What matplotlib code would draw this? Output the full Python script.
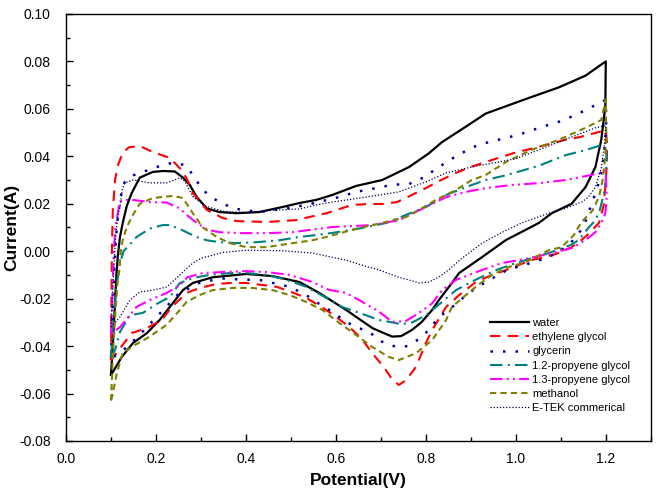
import matplotlib
matplotlib.use("Agg")
import matplotlib.pyplot as plt
from matplotlib.ticker import MultipleLocator, FormatStrFormatter

plt.rcParams['font.family'] = ['Liberation Sans', 'DejaVu Sans']

labels = ["water", "ethylene glycol", "glycerin", "1.2-propyene glycol",
          "1.3-propyene glycol", "methanol", "E-TEK commerical"]

# ---- water ----
water_v = [0.100, 0.104, 0.108, 0.112, 0.115, 0.120, 0.126, 0.135, 0.146, 0.164, 0.193, 0.215, 0.242,
           0.260, 0.275, 0.290, 0.313, 0.341, 0.379, 0.430, 0.490, 0.519, 0.556, 0.592, 0.645, 0.703,
           0.763, 0.807, 0.836, 0.889, 0.933, 0.962, 1.029, 1.095, 1.155, 1.200,
           1.199, 1.190, 1.177, 1.155, 1.124, 1.080, 1.051, 1.022, 0.978, 0.925, 0.874, 0.858, 0.829,
           0.814, 0.790, 0.769, 0.745, 0.725, 0.700, 0.681, 0.623, 0.563, 0.519, 0.459, 0.401, 0.326,
           0.282, 0.260, 0.237, 0.208, 0.180, 0.149, 0.124, 0.104, 0.100]
water_i = [-0.052, -0.040, -0.025, -0.010, -0.0025, 0.006, 0.0118, 0.019, 0.0245, 0.031, 0.0334, 0.0338,
           0.0336, 0.031, 0.028, 0.023, 0.018, 0.0165, 0.016, 0.0165, 0.019, 0.0203, 0.0216, 0.0237,
           0.0275, 0.030, 0.0355, 0.0413, 0.046, 0.0525, 0.058, 0.060, 0.0646, 0.069, 0.074, 0.080,
           0.061, 0.047, 0.0355, 0.027, 0.020, 0.016, 0.0119, 0.009, 0.0047, -0.0025, -0.0092, -0.0134,
           -0.0206, -0.0248, -0.030, -0.0332, -0.0358, -0.036, -0.034, -0.0324, -0.0248, -0.0176,
           -0.013, -0.0105, -0.0096, -0.011, -0.0134, -0.0164, -0.022, -0.029, -0.0345, -0.0387,
           -0.0446, -0.051, -0.052]

# ---- ethylene glycol ----
eg_v = [0.100, 0.101, 0.102, 0.104, 0.109, 0.115, 0.126, 0.140, 0.164, 0.193, 0.231, 0.257, 0.270,
        0.282, 0.313, 0.348, 0.379, 0.446, 0.512, 0.541, 0.579, 0.636, 0.674, 0.703, 0.736, 0.769,
        0.800, 0.834, 0.867, 0.900, 0.933, 0.996, 1.051, 1.111, 1.140, 1.200,
        1.203, 1.202, 1.199, 1.195, 1.185, 1.160, 1.146, 1.124, 1.095, 1.066, 1.035, 0.978, 0.947,
        0.911, 0.874, 0.845, 0.814, 0.800, 0.778, 0.756, 0.740, 0.725, 0.707, 0.681, 0.656, 0.630,
        0.601, 0.568, 0.534, 0.501, 0.468, 0.435, 0.401, 0.368, 0.335, 0.297, 0.268, 0.235, 0.213,
        0.180, 0.146, 0.120, 0.100]
eg_i = [-0.046, -0.020, 0.000, 0.017, 0.030, 0.036, 0.0414, 0.0438, 0.0443, 0.0418, 0.0393, 0.0342,
        0.030, 0.0245, 0.0174, 0.014, 0.0127, 0.0123, 0.0131, 0.0144, 0.016, 0.0195, 0.0199, 0.0199,
        0.0207, 0.0237, 0.0266, 0.030, 0.033, 0.0355, 0.0376, 0.0414, 0.044, 0.047, 0.048, 0.051,
        0.045, 0.036, 0.027, 0.019, 0.012, 0.007, 0.0047, 0.0017, -0.0008, -0.0025, -0.0037, -0.008,
        -0.010, -0.013, -0.0185, -0.0235, -0.0332, -0.0387, -0.0488, -0.0543, -0.0564, -0.054,
        -0.049, -0.043, -0.0366, -0.032, -0.0277, -0.0235, -0.0197, -0.0172, -0.015, -0.0142,
        -0.0134, -0.0134, -0.0138, -0.0155, -0.0176, -0.0235, -0.029, -0.0324, -0.0345, -0.041, -0.046]

# ---- glycerin ----
gly_v = [0.100, 0.104, 0.108, 0.113, 0.120, 0.130, 0.150, 0.180, 0.210, 0.231, 0.246, 0.268, 0.282,
         0.304, 0.326, 0.348, 0.379, 0.430, 0.490, 0.534, 0.607, 0.645, 0.690, 0.725, 0.763, 0.780,
         0.800, 0.818, 0.836, 0.851, 0.874, 0.891, 0.911, 0.940, 0.984, 1.022, 1.058, 1.095, 1.133,
         1.169, 1.190, 1.200,
         1.201, 1.199, 1.196, 1.190, 1.180, 1.165, 1.150, 1.120, 1.090, 1.050, 0.980, 0.933, 0.900,
         0.874, 0.850, 0.829, 0.807, 0.785, 0.760, 0.740, 0.718, 0.696, 0.674, 0.645, 0.623, 0.592,
         0.556, 0.534, 0.497, 0.460, 0.430, 0.392, 0.350, 0.300, 0.250, 0.200, 0.160, 0.120, 0.100]
gly_i = [-0.045, -0.025, -0.005, 0.010, 0.022, 0.029, 0.032, 0.034, 0.036, 0.037, 0.0372, 0.036, 0.032,
         0.0258, 0.0224, 0.020, 0.0178, 0.0165, 0.018, 0.0195, 0.0228, 0.025, 0.0266, 0.028, 0.0283,
         0.030, 0.0313, 0.0342, 0.0363, 0.0384, 0.0405, 0.0426, 0.0443, 0.046, 0.048, 0.050, 0.0524,
         0.0545, 0.0574, 0.0608, 0.063, 0.0637,
         0.055, 0.047, 0.040, 0.033, 0.026, 0.018, 0.010, 0.003, -0.001, -0.004, -0.008, -0.013,
         -0.017, -0.021, -0.025, -0.0277, -0.0332, -0.037, -0.040, -0.0404, -0.0396, -0.0375, -0.034,
         -0.032, -0.0298, -0.0256, -0.0214, -0.0185, -0.015, -0.0134, -0.0121, -0.012, -0.0115,
         -0.013, -0.018, -0.028, -0.036, -0.043, -0.045]

# ---- 1.2-propyene glycol ----
p12_v = [0.100, 0.105, 0.112, 0.120, 0.128, 0.138, 0.157, 0.186, 0.215, 0.231, 0.257, 0.290, 0.313,
         0.341, 0.379, 0.424, 0.474, 0.519, 0.556, 0.592, 0.650, 0.712, 0.756, 0.800, 0.845, 0.889,
         0.933, 0.978, 1.051, 1.111, 1.155, 1.190, 1.200,
         1.202, 1.200, 1.196, 1.187, 1.177, 1.162, 1.140, 1.122, 1.073, 1.035, 1.000, 0.956, 0.911,
         0.867, 0.836, 0.800, 0.770, 0.745, 0.725, 0.696, 0.652, 0.614, 0.579, 0.534, 0.490, 0.446,
         0.401, 0.364, 0.319, 0.282, 0.253, 0.231, 0.202, 0.171, 0.142, 0.120, 0.109, 0.100]
p12_i = [-0.045, -0.030, -0.015, -0.005, 0.000, 0.002, 0.006, 0.0095, 0.011, 0.011, 0.009, 0.006,
         0.0046, 0.0038, 0.0034, 0.0038, 0.0046, 0.006, 0.0068, 0.0077, 0.0095, 0.0119, 0.0153,
         0.0186, 0.0237, 0.027, 0.030, 0.032, 0.036, 0.0405, 0.0426, 0.0447, 0.0456,
         0.038, 0.030, 0.0245, 0.0175, 0.013, 0.010, 0.0047, 0.0026, -0.0008, -0.003, -0.005, -0.008,
         -0.012, -0.0164, -0.0214, -0.027, -0.030, -0.0308, -0.030, -0.029, -0.026, -0.0235,
         -0.0197, -0.015, -0.0121, -0.010, -0.0092, -0.0092, -0.010, -0.0113, -0.0134, -0.0193,
         -0.0222, -0.026, -0.027, -0.034, -0.0417, -0.045]

# ---- 1.3-propyene glycol ----
p13_v = [0.100, 0.103, 0.106, 0.110, 0.115, 0.120, 0.133, 0.149, 0.186, 0.224, 0.253, 0.270, 0.290,
         0.315, 0.341, 0.392, 0.446, 0.503, 0.556, 0.592, 0.681, 0.740, 0.800, 0.845, 0.889, 0.933,
         0.991, 1.051, 1.111, 1.146, 1.190, 1.200,
         1.202, 1.199, 1.190, 1.177, 1.155, 1.124, 1.080, 1.029, 0.969, 0.918, 0.867, 0.836, 0.814,
         0.785, 0.755, 0.725, 0.696, 0.659, 0.623, 0.585, 0.548, 0.497, 0.446, 0.401, 0.348, 0.304,
         0.270, 0.253, 0.224, 0.186, 0.157, 0.120, 0.100]
p13_i = [-0.035, -0.020, 0.000, 0.010, 0.016, 0.021, 0.0216, 0.0216, 0.0207, 0.0205, 0.018, 0.015,
         0.012, 0.009, 0.008, 0.0076, 0.0076, 0.008, 0.0093, 0.0102, 0.011, 0.0131, 0.0186, 0.0228,
         0.025, 0.0266, 0.0279, 0.0287, 0.030, 0.0313, 0.033, 0.034,
         0.0228, 0.016, 0.012, 0.008, 0.0047, 0.0013, -0.0008, -0.003, -0.005, -0.0084, -0.0121,
         -0.0164, -0.022, -0.026, -0.0295, -0.0298, -0.0255, -0.0214, -0.0176, -0.0163, -0.013,
         -0.010, -0.0088, -0.0084, -0.0088, -0.0092, -0.011, -0.0143, -0.0176, -0.0206, -0.0235,
         -0.032, -0.035]

# ---- methanol ----
meoh_v = [0.100, 0.104, 0.110, 0.115, 0.118, 0.122, 0.126, 0.135, 0.146, 0.164, 0.193, 0.237, 0.260,
          0.282, 0.304, 0.335, 0.364, 0.401, 0.446, 0.490, 0.548, 0.579, 0.652, 0.703, 0.756, 0.792,
          0.822, 0.867, 0.902, 0.933, 0.978, 1.035, 1.095, 1.155, 1.190, 1.200,
          1.201, 1.199, 1.193, 1.185, 1.170, 1.155, 1.146, 1.129, 1.102, 1.073, 1.022, 0.984, 0.947,
          0.911, 0.889, 0.858, 0.845, 0.814, 0.778, 0.740, 0.718, 0.681, 0.645, 0.608, 0.570, 0.534,
          0.497, 0.459, 0.415, 0.370, 0.326, 0.297, 0.268, 0.253, 0.224, 0.186, 0.149, 0.126, 0.113,
          0.104, 0.100]
meoh_i = [-0.063, -0.045, -0.025, -0.012, -0.009, 0.000, 0.0046, 0.010, 0.0144, 0.020, 0.0224, 0.0233,
          0.0224, 0.016, 0.010, 0.006, 0.0034, 0.0017, 0.0017, 0.003, 0.0046, 0.006, 0.0098, 0.0119,
          0.0144, 0.0182, 0.0216, 0.0258, 0.030, 0.0321, 0.0376, 0.0427, 0.0469, 0.052, 0.0553, 0.064,
          0.050, 0.040, 0.030, 0.0228, 0.017, 0.014, 0.0123, 0.0068, 0.0017, 0.0004, -0.0046, -0.0067,
          -0.010, -0.015, -0.0185, -0.0235, -0.029, -0.0375, -0.043, -0.0459, -0.0446, -0.0404,
          -0.0353, -0.0303, -0.0248, -0.0214, -0.0185, -0.0164, -0.0155, -0.0155, -0.0164, -0.0185,
          -0.0214, -0.0248, -0.031, -0.036, -0.040, -0.043, -0.0514, -0.060, -0.063]

# ---- E-TEK commerical ----
etek_v = [0.100, 0.104, 0.110, 0.115, 0.120, 0.125, 0.131, 0.149, 0.186, 0.224, 0.253, 0.264, 0.282,
          0.310, 0.350, 0.400, 0.459, 0.519, 0.556, 0.592, 0.667, 0.740, 0.800, 0.845, 0.902, 0.962,
          1.000, 1.051, 1.124, 1.177, 1.200,
          1.197, 1.190, 1.177, 1.160, 1.146, 1.110, 1.073, 1.013, 0.970, 0.925, 0.880, 0.850, 0.829,
          0.807, 0.785, 0.760, 0.740, 0.696, 0.660, 0.623, 0.548, 0.480, 0.401, 0.350, 0.300, 0.282,
          0.270, 0.253, 0.224, 0.193, 0.164, 0.142, 0.120, 0.100]
etek_i = [-0.032, -0.015, 0.005, 0.015, 0.0186, 0.026, 0.0288, 0.030, 0.0288, 0.0288, 0.0309, 0.0295,
          0.023, 0.019, 0.0168, 0.0163, 0.0173, 0.0178, 0.0195, 0.0207, 0.0228, 0.025, 0.0292, 0.033,
          0.0355, 0.0376, 0.039, 0.0427, 0.0481, 0.052, 0.053,
          0.045, 0.035, 0.027, 0.0225, 0.0207, 0.018, 0.016, 0.0119, 0.008, 0.0034, -0.003, -0.008,
          -0.0109, -0.013, -0.0134, -0.012, -0.011, -0.0079, -0.006, -0.0038, -0.0008, 0.0002, 0.0004,
          -0.0005, -0.003, -0.005, -0.007, -0.010, -0.0151, -0.0164, -0.0172, -0.0206, -0.0277, -0.032]

series_v = [water_v, eg_v, gly_v, p12_v, p13_v, meoh_v, etek_v]
series_i = [water_i, eg_i, gly_i, p12_i, p13_i, meoh_i, etek_i]

colors = ['#000000', '#FF0000', '#0000A0', '#008080', '#FF00FF', '#808000', '#000050']
styles = ['-', (0, (5, 3.5)), (0, (1, 4)), (0, (6, 2.5, 1, 2.5)), (0, (6, 2, 1, 2, 1, 2)),
          (0, (3, 2)), (0, (1, 1.5))]
widths = [1.6, 1.5, 1.8, 1.5, 1.5, 1.5, 0.9]

fig = plt.figure(figsize=(6.6, 4.98), dpi=100)
ax = fig.add_axes([0.1, 0.1145, 0.886, 0.8575])

for v, i, lab, c, ls, lw in zip(series_v, series_i, labels, colors, styles, widths):
    ax.plot(v, i, color=c, linestyle=ls, linewidth=lw, label=lab)

ax.set_xlim(0.0, 1.3)
ax.set_ylim(-0.08, 0.10)
ax.xaxis.set_major_locator(MultipleLocator(0.2))
ax.xaxis.set_minor_locator(MultipleLocator(0.1))
ax.yaxis.set_major_locator(MultipleLocator(0.02))
ax.yaxis.set_minor_locator(MultipleLocator(0.01))
ax.xaxis.set_major_formatter(FormatStrFormatter('%.1f'))
ax.yaxis.set_major_formatter(FormatStrFormatter('%.2f'))
ax.tick_params(which='both', direction='in', top=False, right=False, labelsize=10)
ax.tick_params(which='major', length=5, width=1)
ax.tick_params(which='minor', length=3, width=1)
ax.tick_params(axis='y', which='major', pad=11)
ax.tick_params(axis='x', which='major', pad=8)
for s in ax.spines.values():
    s.set_linewidth(1.0)

ax.set_xlabel('Potential(V)', fontsize=12.5, fontweight='bold', labelpad=5)
ax.set_ylabel('Current(A)', fontsize=12.5, fontweight='bold')
ax.yaxis.set_label_coords(-0.080, 0.5)

ax.legend(loc='upper left', bbox_to_anchor=(0.725, 0.288), frameon=False, fontsize=8,
          handlelength=3.5, handletextpad=0.3, labelspacing=0.38, borderpad=0, borderaxespad=0)

fig.savefig('out.png', dpi=100)
